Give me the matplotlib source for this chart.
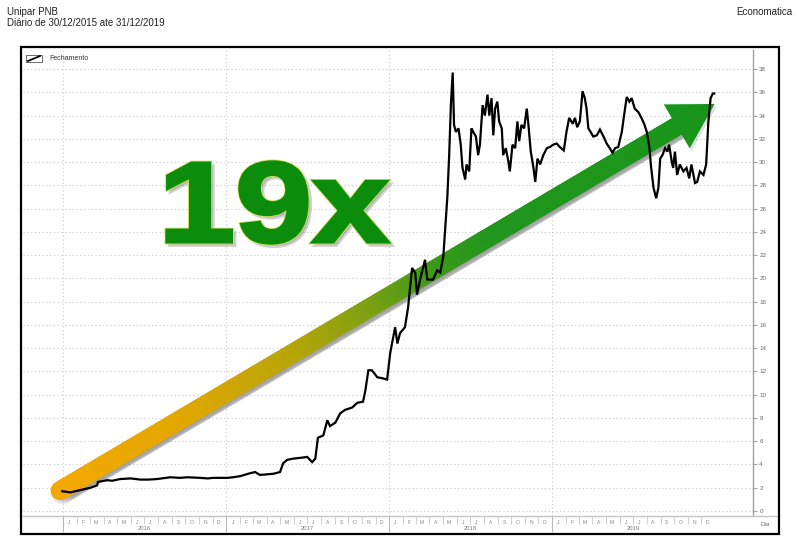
import matplotlib
matplotlib.use("Agg")
import matplotlib.pyplot as plt
import matplotlib.dates as mdates
import numpy as np
from matplotlib.collections import LineCollection
from matplotlib.colors import LinearSegmentedColormap
from matplotlib.font_manager import FontProperties
from matplotlib.lines import Line2D
from matplotlib.patches import PathPatch, Polygon, Rectangle
from matplotlib.textpath import TextPath
from matplotlib.transforms import Affine2D, IdentityTransform, blended_transform_factory

W, H = 800, 545

# Unipar PNB daily close
DATES = [
    "2015-12-30", "2016-01-17", "2016-02-08", "2016-03-02", "2016-03-17", "2016-03-19",
    "2016-04-09", "2016-04-20", "2016-05-08", "2016-06-01", "2016-06-22", "2016-07-10",
    "2016-07-30", "2016-08-28", "2016-09-19", "2016-10-05", "2016-11-03", "2016-11-20",
    "2016-12-02", "2017-01-02", "2017-01-16", "2017-02-01", "2017-02-23", "2017-03-06",
    "2017-03-17", "2017-04-16", "2017-05-01", "2017-05-08", "2017-05-17", "2017-05-30",
    "2017-06-22", "2017-07-01", "2017-07-12", "2017-07-19", "2017-07-25", "2017-08-06",
    "2017-08-15", "2017-08-21", "2017-09-02", "2017-09-13", "2017-09-24", "2017-10-10",
    "2017-10-21", "2017-11-03", "2017-11-08", "2017-11-15", "2017-11-23", "2017-12-05",
    "2017-12-18", "2017-12-27", "2018-01-03", "2018-01-14", "2018-01-19", "2018-01-25",
    "2018-02-05", "2018-02-12", "2018-02-21", "2018-02-28", "2018-03-04", "2018-03-11",
    "2018-03-22", "2018-03-27", "2018-04-09", "2018-04-18", "2018-04-25", "2018-05-02",
    "2018-05-06", "2018-05-11", "2018-05-15", "2018-05-19", "2018-05-23", "2018-05-26",
    "2018-05-30", "2018-06-05", "2018-06-10", "2018-06-14", "2018-06-20", "2018-06-23",
    "2018-06-29", "2018-07-04", "2018-07-08", "2018-07-14", "2018-07-19", "2018-07-23",
    "2018-07-29", "2018-08-03", "2018-08-09", "2018-08-13", "2018-08-18", "2018-08-22",
    "2018-08-26", "2018-08-31", "2018-09-04", "2018-09-10", "2018-09-13", "2018-09-19",
    "2018-09-25", "2018-09-28", "2018-10-04", "2018-10-10", "2018-10-15", "2018-10-19",
    "2018-10-24", "2018-10-30", "2018-11-05", "2018-11-08", "2018-11-14", "2018-11-20",
    "2018-11-24", "2018-11-29", "2018-12-05", "2018-12-12", "2018-12-20", "2018-12-27",
    "2019-01-03", "2019-01-11", "2019-01-18", "2019-01-27", "2019-02-02", "2019-02-08",
    "2019-02-16", "2019-02-21", "2019-02-26", "2019-03-04", "2019-03-10", "2019-03-15",
    "2019-03-19", "2019-03-23", "2019-03-28", "2019-04-03", "2019-04-11", "2019-04-18",
    "2019-04-26", "2019-05-03", "2019-05-10", "2019-05-16", "2019-05-22", "2019-05-29",
    "2019-06-06", "2019-06-11", "2019-06-17", "2019-06-23", "2019-06-28", "2019-07-05",
    "2019-07-13", "2019-07-20", "2019-07-26", "2019-08-01", "2019-08-07", "2019-08-10",
    "2019-08-16", "2019-08-22", "2019-08-27", "2019-08-31", "2019-09-05", "2019-09-11",
    "2019-09-16", "2019-09-20", "2019-09-26", "2019-09-29", "2019-10-03", "2019-10-08",
    "2019-10-14", "2019-10-22", "2019-10-29", "2019-11-04", "2019-11-09", "2019-11-17",
    "2019-11-22", "2019-11-28", "2019-12-06", "2019-12-12", "2019-12-17", "2019-12-22",
    "2019-12-27", "2019-12-30",
]
CLOSE = [
    1.7, 1.6, 1.8, 2.0, 2.2, 2.5,
    2.65, 2.6, 2.75, 2.8, 2.7, 2.7,
    2.75, 2.9, 2.85, 2.9, 2.85, 2.8,
    2.85, 2.85, 2.9, 3.0, 3.25, 3.35,
    3.1, 3.2, 3.35, 4.1, 4.4, 4.5,
    4.6, 4.65, 4.2, 4.5, 6.3, 6.5,
    7.8, 7.3, 7.6, 8.4, 8.7, 8.9,
    9.3, 9.4, 10.3, 12.1, 12.1, 11.5,
    11.4, 11.3, 13.6, 15.8, 14.4, 15.3,
    15.8, 17.5, 20.9, 20.5, 18.6, 19.9,
    21.6, 19.9, 19.9, 20.7, 20.5, 21.9,
    24.2, 27.0, 30.5, 35.0, 37.7, 33.2,
    32.6, 32.9, 31.5, 29.5, 28.5, 29.8,
    29.2, 32.9, 32.6, 32.2, 30.6, 31.5,
    34.9, 34.0, 35.8, 34.0, 35.5, 32.3,
    34.6, 35.2, 33.5, 32.9, 30.6, 31.2,
    30.0, 29.2, 31.5, 31.2, 33.5, 31.8,
    33.2, 32.9, 34.6, 33.5, 30.9, 29.5,
    28.3, 30.3, 29.8, 30.6, 31.2, 31.3,
    31.5, 31.6, 31.3, 31.0, 32.6, 33.8,
    33.3, 33.8, 33.0, 33.5, 36.1, 35.5,
    34.6, 32.9, 32.6, 32.2, 32.3, 32.8,
    32.2, 31.6, 31.2, 30.8, 31.2, 31.3,
    32.6, 34.0, 35.6, 35.2, 35.5, 34.6,
    34.3, 33.8, 33.3, 32.6, 31.2, 29.8,
    27.8, 26.9, 27.8, 30.3, 30.6, 31.2,
    30.9, 31.5, 30.0, 29.5, 30.9, 28.9,
    29.8, 29.2, 29.5, 28.6, 29.8, 28.2,
    28.3, 29.2, 28.9, 29.8, 33.5, 35.5,
    35.9, 35.9,
]

Y_TICKS = list(range(0, 39, 2))
MONTH_LETTERS = ["J", "F", "M", "A", "M", "J", "J", "A", "S", "O", "N", "D"]
YEARS = [2016, 2017, 2018, 2019]
X_LIMITS = ("2015-10-03", "2020-03-26")
Y_LIMITS = (-0.43, 39.64)

# "19x" arrow, from the first close to the last one
ARROW_START = ("2015-12-25", 1.75)
ARROW_TIP = ("2019-12-31", 35.0)

SMALL_FONT = ["Liberation Sans", "DejaVu Sans"]
GRID_GREY = "#cfcfcf"
AXIS_GREY = "#a0a0a0"
LABEL_GREY = "#6a6a6a"


def fx(px: float) -> float:
    return px / W


def fy(py: float) -> float:
    return 1.0 - py / H


def dnum(day: str) -> float:
    return mdates.date2num(np.datetime64(day))


fig = plt.figure(figsize=(W / 100, H / 100), dpi=100, facecolor="white")

# header
fig.text(fx(7), fy(12), "Unipar PNB", fontsize=7, color="#222222", family=SMALL_FONT, va="center")
fig.text(fx(7), fy(23), "Diário de 30/12/2015 ate 31/12/2019", fontsize=7, color="#222222",
         family=SMALL_FONT, va="center")
fig.text(fx(792), fy(12), "Economatica", fontsize=7, color="#222222", family=SMALL_FONT,
         va="center", ha="right")

# chart frame
fig.add_artist(Rectangle((fx(21), fy(534)), 758 / W, 487 / H, transform=fig.transFigure,
                         fill=False, lw=1.6, ec="black", zorder=10))
fig.add_artist(Line2D([fx(23), fx(778)], [fy(516), fy(516)], transform=fig.transFigure,
                      color="#c4c4c4", lw=1.0, zorder=4))

# legend entry
fig.add_artist(Rectangle((fx(26), fy(62)), 16 / W, 7 / H, transform=fig.transFigure,
                         fill=False, lw=0.6, ec="#555555"))
fig.add_artist(Line2D([fx(28), fx(40)], [fy(61), fy(56)], transform=fig.transFigure,
                      color="black", lw=1.3))
fig.text(fx(49), fy(58.5), "Fechamento", fontsize=5, color="#333333", family=SMALL_FONT, va="center")

ax = fig.add_axes([fx(23), fy(516), (753 - 23) / W, (516 - 50) / H])
ax.set_facecolor("none")

dates = np.array(DATES, dtype="datetime64[D]")
ax.plot(dates, CLOSE, color="black", lw=1.6, zorder=3, solid_joinstyle="miter")

ax.set_xlim(dnum(X_LIMITS[0]), dnum(X_LIMITS[1]))
ax.set_ylim(*Y_LIMITS)

for side in ("top", "left", "bottom"):
    ax.spines[side].set_visible(False)
ax.spines["right"].set_color(AXIS_GREY)
ax.spines["right"].set_linewidth(1.0)

ax.yaxis.tick_right()
ax.set_yticks(Y_TICKS)
ax.set_yticklabels([str(v) for v in Y_TICKS], family=SMALL_FONT)
ax.tick_params(axis="y", direction="out", length=3, color=AXIS_GREY, labelsize=4.5,
               labelcolor=LABEL_GREY, pad=1.5)

year_starts = [dnum(f"{y}-01-01") for y in YEARS + [YEARS[-1] + 1]]
month_starts = [dnum(f"{y}-{m:02d}-01") for y in YEARS for m in range(1, 13)]
ax.set_xticks(year_starts[:-1])
ax.set_xticks(month_starts, minor=True)
ax.set_xticklabels([])
ax.tick_params(axis="x", which="major", length=11.5, color="#b8b8b8", width=0.8)
ax.tick_params(axis="x", which="minor", length=5.5, color="#c8c8c8", width=0.6)

ax.grid(True, axis="y", ls=(0, (1.2, 2.2)), color=GRID_GREY, lw=0.8)
ax.grid(True, axis="x", which="major", ls=(0, (1.2, 2.2)), color=GRID_GREY, lw=0.8)
ax.set_axisbelow(True)

# month letters and year names under the axis
xt = blended_transform_factory(ax.transData, ax.transAxes)
for y in YEARS:
    for m, letter in enumerate(MONTH_LETTERS, start=1):
        mid = dnum(f"{y}-{m:02d}-15")
        ax.text(mid, -6 / 466, letter, transform=xt, fontsize=3.6, color="#888888",
                family=SMALL_FONT, ha="center", va="center", clip_on=False)
    ax.text(dnum(f"{y}-07-01"), -12.5 / 466, str(y), transform=xt, fontsize=4.2,
            color="#777777", family=SMALL_FONT, ha="center", va="center", clip_on=False)
fig.text(fx(765), fy(525), "Dia", fontsize=4.5, color=LABEL_GREY, family=SMALL_FONT,
         ha="center", va="center")

# gradient arrow (pixel space, anchored to data points)
p0 = ax.transData.transform((dnum(ARROW_START[0]), ARROW_START[1]))
p1 = ax.transData.transform((dnum(ARROW_TIP[0]), ARROW_TIP[1]))
d = p1 - p0
u = d / np.hypot(*d)
n = np.array([-u[1], u[0]])
head_len, head_half, shaft_w = 44.0, 25.5, 19.0
base = p1 - u * head_len

cmap = LinearSegmentedColormap.from_list(
    "orange_green",
    [(0.0, "#f3a800"), (0.2, "#e2a700"), (0.38, "#b8a508"), (0.5, "#80a012"),
     (0.6, "#3e9a18"), (0.7, "#21961c"), (1.0, "#1a961a")],
)
t = np.linspace(0.0, 1.0, 240)
shaft_end = base + u * 6
pts = p0 + np.outer(t, shaft_end - p0)
segs = np.stack([pts[:-1], pts[1:]], axis=1)

shadow_off = np.array([2.0, -2.5])
ax.add_collection(LineCollection(segs + shadow_off, colors="#808080", alpha=0.18,
                                 linewidths=(shaft_w + 3) * 0.72, capstyle="round",
                                 transform=IdentityTransform(), zorder=1.5, clip_on=False),
                  autolim=False)
head = np.array([base + n * head_half, p1, base - n * head_half])
ax.add_patch(Polygon(head + shadow_off, closed=True, fc="#808080", ec="none", alpha=0.25,
                     transform=IdentityTransform(), zorder=1.5, clip_on=False))
ax.add_collection(LineCollection(segs, colors=cmap(t[:-1]), linewidths=shaft_w * 0.72,
                                 capstyle="round", transform=IdentityTransform(), zorder=2,
                                 clip_on=False), autolim=False)
ax.add_patch(Polygon(head, closed=True, fc="#18951a", ec="none",
                     transform=IdentityTransform(), zorder=2, clip_on=False))

# big "19x" label, fitted into its box (pixels: x 167..388, y 162..243)
glyphs = TextPath((0, 0), "19x", size=100,
                  prop=FontProperties(family="Liberation Sans", weight="bold"))
ext = glyphs.get_extents()
box_l, box_r, box_t, box_b = 167, 388, 162, 243
fit = (Affine2D().translate(-ext.x0, -ext.y0)
       .scale((box_r - box_l) / ext.width, (box_b - box_t) / ext.height)
       .translate(box_l, H - box_b))
label_path = fit.transform_path(glyphs)
shadow_path = Affine2D().translate(3, -3).transform_path(label_path)
fig.add_artist(PathPatch(shadow_path, fc="#7a7a7a", ec="#7a7a7a", lw=3.0, alpha=0.35,
                         transform=IdentityTransform(), zorder=6))
fig.add_artist(PathPatch(label_path, fc="none", ec="#cfe25c", lw=3.6,
                         transform=IdentityTransform(), zorder=6.5))
fig.add_artist(PathPatch(label_path, fc="#0b8d0b", ec="#0b8d0b", lw=2.4,
                         transform=IdentityTransform(), zorder=7))

fig.savefig("out.png", dpi=100, facecolor="white")
